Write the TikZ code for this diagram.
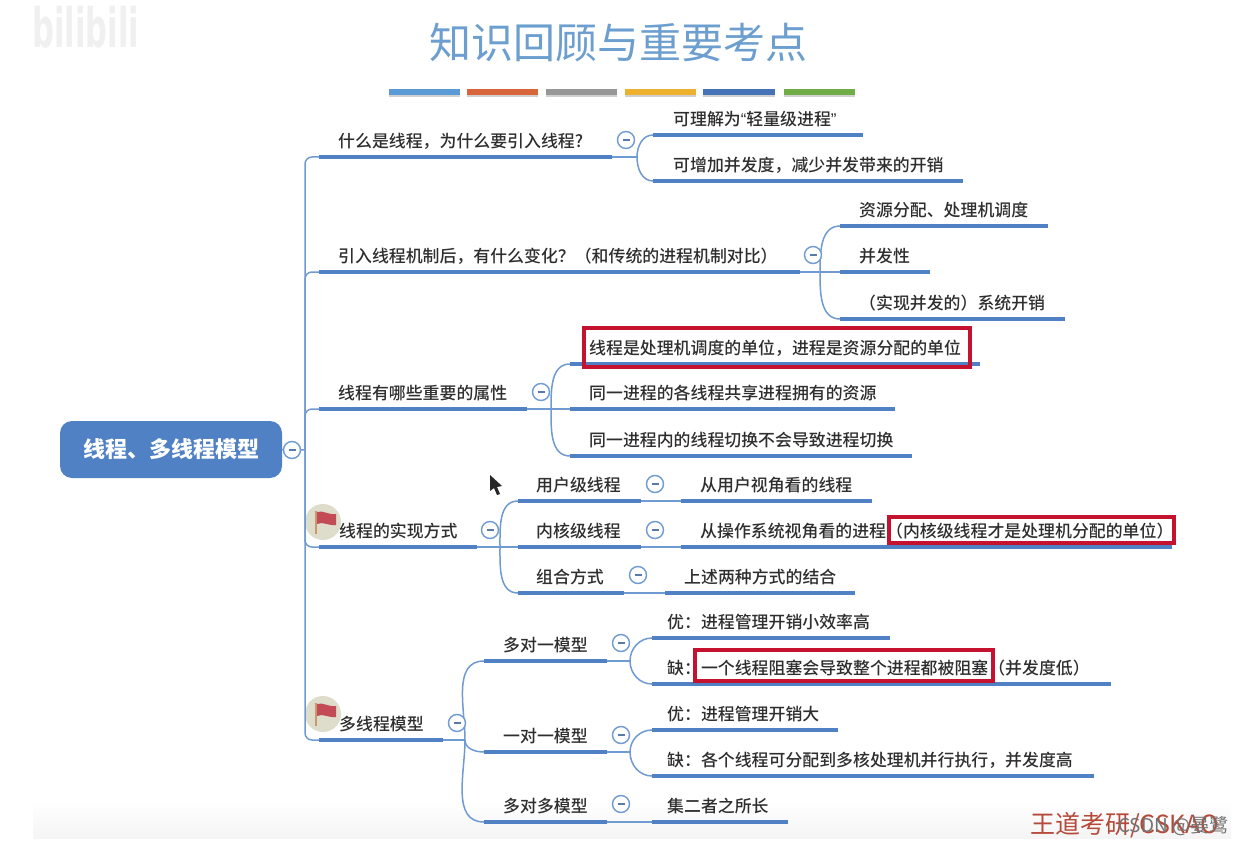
\documentclass[tikz,border=0pt]{standalone}
\usepackage{fontspec}
\setmainfont{Noto Sans CJK SC}
\newfontfamily\cjkmed{Noto Sans CJK SC Medium}
\newfontfamily\wm{DejaVu Sans}
\newfontfamily\latq{Liberation Sans}
\usetikzlibrary{shapes.geometric}
\definecolor{mapblue}{HTML}{4F81C4}
\definecolor{thinblue}{HTML}{6F9AD2}
\definecolor{titleblue}{HTML}{6C9FCF}
\definecolor{redbox}{HTML}{C4122F}
\definecolor{badgec}{HTML}{DEDDCC}
\definecolor{polec}{HTML}{C79A6B}
\definecolor{flagc}{HTML}{C24B57}
\definecolor{brandc}{HTML}{B5493A}
\tikzset{
  bar/.style={draw=mapblue,line width=3.6pt},
  conn/.style={draw=thinblue,line width=1.5pt},
  lab/.style={anchor=west,inner sep=0pt,font=\cjkmed\fontsize{16.9}{17}\selectfont,text=black!82},
  coll/.style={circle,draw=thinblue,line width=1.4pt,fill=white,minimum size=17pt,inner sep=0pt,
    path picture={\draw[draw=thinblue!80!black,line width=1.2pt] ([xshift=-3.5pt]path picture bounding box.center) -- ([xshift=3.5pt]path picture bounding box.center);}},
  redmark/.style={draw=redbox,line width=4pt,fill=none},
  seg/.style={line width=6pt},
  shadowseg/.style={line width=2.5pt,draw=black!18},
  badge/.style={circle,fill=badgec,minimum size=36pt,inner sep=0pt}
}
\newcommand\topic[6]{%
  \coordinate (#1l) at (#2,#4);
  \coordinate (#1r) at (#3,#4);
  \draw[bar] (#1l) -- (#1r);
  \node[lab] (#1t) at (#5,#4-16) {#6};
}
\newcommand\upc[2]{\draw[conn] (#1) to[out=90,in=180] (#2l);}
\newcommand\dnc[2]{\draw[conn] (#1) to[out=-90,in=180] (#2l);}
\newcommand\flagmark[3]{%
  \node[badge] (#1) at (#2,#3) {};
  \draw[draw=polec,line width=1.6pt] (#2-7,#3-11) -- (#2-7,#3+12);
  \fill[flagc] (#2-6,#3-10) .. controls (#2,#3-12) and (#2+5,#3-7) .. (#2+13,#3-8) -- (#2+13,#3+3) .. controls (#2+5,#3+4) and (#2,#3-1) .. (#2-6,#3+2) -- cycle;
}
\begin{document}
\begin{tikzpicture}[x=1pt,y=-1pt]
\useasboundingbox (0,0) rectangle (1245,845);
\fill[white] (0,0) rectangle (1245,845);
% bottom band
\shade[top color=white,bottom color=black!4] (33,800) rectangle (1231,838);
% watermark
\node[inner sep=0pt,anchor=west,text=black!6,font=\wm\bfseries\fontsize{34}{34}\selectfont] (wmk) at (32,27) {\scalebox{0.9}[1.6]{bilibili}};
% title
\node[inner sep=0pt,text=titleblue,font=\fontsize{42}{42}\selectfont] (title) at (618.5,43) {知识回顾与重要考点};
% colour bars
\foreach \a/\b/\c/\n in {389/460/5B9BD5/a,467/538/D9663A/b,546/617/979797/c,625/696/EDB12F/d,703/775/4672B8/e,784/855/70AD47/f}{
  \definecolor{barc}{HTML}{\c}
  \coordinate (bar\n l) at (\a,92);
  \coordinate (bar\n r) at (\b,92);
  \draw[shadowseg] ([yshift=-3.5pt]bar\n l) -- ([yshift=-3.5pt]bar\n r);
  \draw[seg,draw=barc] (bar\n l) -- (bar\n r);
}
% root
\node[draw=none,fill=mapblue,rounded corners=12pt,minimum width=222pt,minimum height=57pt,inner sep=0pt,
  text=white,font=\bfseries\fontsize{22}{22}\selectfont] (root) at (171,449.5) {线程、多线程模型};
\coordinate (spine) at (305,450);
\draw[conn] (root.east) -- (spine);
% flags
\flagmark{flagD}{323}{522}
\flagmark{flagE}{323}{714}
% topics
\topic{A}{319}{612}{157}{338}{什么是线程，为什么要引入线程?}
\topic{Aa}{653}{863}{135}{673}{可理解为{\latq“}轻量级进程{\latq”}}
\topic{Ab}{653}{963}{181}{673}{可增加并发度，减少并发带来的开销}
\topic{B}{319}{800}{272}{338}{引入线程机制后，有什么变化？（和传统的进程机制对比）}
\topic{Ba}{840}{1048}{226}{859}{资源分配、处理机调度}
\topic{Bb}{840}{930}{272}{859}{并发性}
\topic{Bc}{840}{1065}{319}{859}{（实现并发的）系统开销}
\topic{C}{319}{527}{409}{338}{线程有哪些重要的属性}
\topic{Ca}{570}{980}{364}{589}{线程是处理机调度的单位，进程是资源分配的单位}
\topic{Cb}{570}{895}{409}{589}{同一进程的各线程共享进程拥有的资源}
\topic{Cc}{570}{912}{456}{589}{同一进程内的线程切换不会导致进程切换}
\topic{D}{319}{477}{547}{339}{线程的实现方式}
\topic{Da}{518}{641}{501}{536}{用户级线程}
\topic{Daa}{681}{872}{501}{700}{从用户视角看的线程}
\topic{Db}{518}{641}{547}{536}{内核级线程}
\topic{Dba}{681}{1172}{547}{700}{从操作系统视角看的进程（内核级线程才是处理机分配的单位）}
\topic{Dc}{518}{624}{593}{536}{组合方式}
\topic{Dca}{665}{855}{593}{684}{上述两种方式的结合}
\topic{E}{319}{443}{740}{339}{多线程模型}
\topic{Ea}{484}{607}{661}{503}{多对一模型}
\topic{Eaa}{652}{890}{638}{667}{优：进程管理开销小效率高}
\topic{Eab}{652}{1111}{684}{667}{缺：一个线程阻塞会导致整个进程都被阻塞（并发度低）}
\topic{Eb}{484}{607}{752}{503}{一对一模型}
\topic{Eba}{652}{838}{730}{667}{优：进程管理开销大}
\topic{Ebb}{652}{1094}{776}{667}{缺：各个线程可分配到多核处理机并行执行，并发度高}
\topic{Ec}{484}{607}{822}{503}{多对多模型}
\topic{Eca}{652}{788}{822}{667}{集二者之所长}
% spine
\foreach \n in {A,B,C,D,E}{ \draw[conn,rounded corners=7pt] (\n l) -| (spine); }
% splits
\coordinate (As) at (637,157); \coordinate (Bs) at (820,272); \coordinate (Cs) at (551,409);
\coordinate (Ds) at (500,547); \coordinate (Es) at (465,740);
\coordinate (Eas) at (630,661); \coordinate (Ebs) at (630,752);
\draw[conn] (Ar) -- (As); \upc{As}{Aa} \dnc{As}{Ab}
\draw[conn] (Br) -- (Bbl); \upc{Bs}{Ba} \dnc{Bs}{Bc}
\draw[conn] (Cr) -- (Cbl); \upc{Cs}{Ca} \dnc{Cs}{Cc}
\draw[conn] (Dr) -- (Dbl); \upc{Ds}{Da} \dnc{Ds}{Dc}
\draw[conn] (Er) -- (Es); \upc{Es}{Ea} \dnc{Es}{Eb} \dnc{Es}{Ec}
\draw[conn] (Ear) -- (Eas); \upc{Eas}{Eaa} \dnc{Eas}{Eab}
\draw[conn] (Ebr) -- (Ebs); \upc{Ebs}{Eba} \dnc{Ebs}{Ebb}
\draw[conn] (Ecr) -- (Ecal);
\draw[conn] (Dar) -- (Daal);
\draw[conn] (Dbr) -- (Dbal);
\draw[conn] (Dcr) -- (Dcal);
% collapse circles
\node[coll] (cR) at (292,450) {};
\node[coll] (cA) at (626,140) {};
\node[coll] (cB) at (813,255) {};
\node[coll] (cC) at (541,392) {};
\node[coll] (cD) at (490,530) {};
\node[coll] (cDa) at (655,484) {};
\node[coll] (cDb) at (655,530) {};
\node[coll] (cDc) at (638,575) {};
\node[coll] (cE) at (457,723) {};
\node[coll] (cEa) at (621,643) {};
\node[coll] (cEb) at (621,735) {};
\node[coll] (cEc) at (621,804) {};
% red marks
\draw[redmark] (584,328) rectangle (970,367);
\draw[redmark] (889,517) rectangle (1174,543);
\draw[redmark] (695,650) rectangle (993,681);
% cursor
\fill[black!85] (490,475) -- (490,491) -- (494,488) -- (497,495) -- (500,494) -- (497,487) -- (502,486) -- cycle;
% footer
\node[inner sep=0pt,anchor=west,text=brandc,font=\fontsize{25}{25}\selectfont] (brand) at (1030,825) {王道考研/CSKAO};
\node[inner sep=0pt,anchor=west,text=black!55,font=\fontsize{19}{19}\selectfont] (csdn) at (1118,826) {CSDN @晏鹭};
\end{tikzpicture}
\end{document}
